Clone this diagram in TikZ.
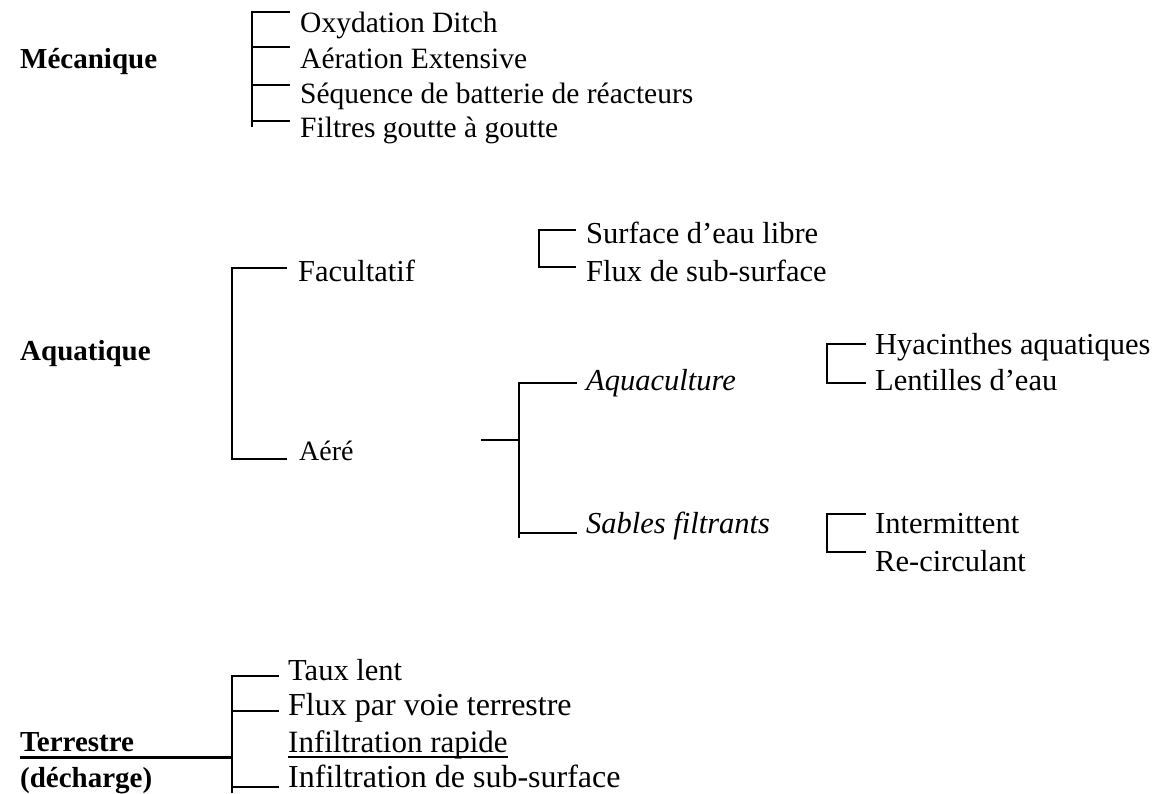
\documentclass[tikz,border=0pt]{standalone}
\usepackage{fontspec}
\setmainfont{Liberation Serif}
\begin{document}
\begin{tikzpicture}[x=1pt,y=-1pt,
  lbl/.style={anchor=base west, inner sep=0pt, font=\fontsize{29.5}{34}\selectfont},
  big/.style={anchor=base west, inner sep=0pt, font=\fontsize{32}{36}\selectfont},
  mid/.style={anchor=base west, inner sep=0pt, font=\fontsize{30.5}{35}\selectfont},
  sml/.style={anchor=base west, inner sep=0pt, font=\fontsize{28}{32}\selectfont},
  hdr/.style={anchor=base west, inner sep=0pt, font=\fontsize{29}{34}\selectfont\bfseries},
  brk/.style={line width=2pt},
  thick line/.style={line width=3pt}]
\useasboundingbox (0,0) rectangle (1160,793);

% headings
\node[hdr] (mec) at (20,68) {Mécanique};
\node[hdr] (aqu) at (20,360) {Aquatique};
\node[hdr] (ter) at (20,751) {Terrestre};
\node[hdr] (dec) at (20,787) {(décharge)};

% mecanique bracket
\node[lbl] (ox) at (300,32) {Oxydation Ditch};
\node[lbl] (aer) at (300,68) {Aération Extensive};
\node[lbl] (seq) at (300,103) {Séquence de batterie de réacteurs};
\node[lbl] (fil) at (300,137) {Filtres goutte à goutte};
\coordinate (m0) at (252,12);
\coordinate (m0e) at (290,12);
\coordinate (m1) at (252,47);
\coordinate (m1e) at (290,47);
\coordinate (m2) at (252,85);
\coordinate (m2e) at (290,85);
\coordinate (m3) at (252,121);
\coordinate (m3e) at (290,121);
\coordinate (mb) at (252,127);
\draw[brk] (mb) -- (m0) -- (m0e);
\draw[brk] (m1) -- (m1e);
\draw[brk] (m2) -- (m2e);
\draw[brk] (m3) -- (m3e);

% aquatique bracket
\node[mid] (fac) at (298,281) {Facultatif};
\node[sml] (aere) at (299,460) {Aéré};
\coordinate (a0) at (232,268);
\coordinate (a0e) at (287,268);
\coordinate (a1) at (232,459);
\coordinate (a1e) at (287,459);
\draw[brk] (a0e) -- (a0) -- (a1) -- (a1e);

% facultatif sub-bracket
\node[mid] (sur) at (586,243) {Surface d’eau libre};
\node[mid] (flu) at (586,281) {Flux de sub-surface};
\coordinate (f0) at (539,230);
\coordinate (f0e) at (576,230);
\coordinate (f1) at (539,267);
\coordinate (f1e) at (576,267);
\draw[brk] (f0e) -- (f0) -- (f1) -- (f1e);

% aere sub-bracket
\node[mid] (aqc) at (586,390) {\itshape Aquaculture};
\node[mid] (sab) at (586,533) {\itshape Sables filtrants};
\coordinate (s0) at (481,440);
\coordinate (s0e) at (519,440);
\coordinate (c0) at (519,383);
\coordinate (c0e) at (577,383);
\coordinate (c1) at (519,533);
\coordinate (c1e) at (577,533);
\coordinate (cb) at (519,538);
\draw[brk] (s0) -- (s0e);
\draw[brk] (c0e) -- (c0) -- (cb);
\draw[brk] (c1) -- (c1e);

% aquaculture sub-bracket
\node[mid] (hya) at (875,354) {Hyacinthes aquatiques};
\node[mid] (len) at (875,390) {Lentilles d’eau};
\coordinate (h0) at (827,344);
\coordinate (h0e) at (866,344);
\coordinate (h1) at (827,383);
\coordinate (h1e) at (866,383);
\draw[brk] (h0e) -- (h0) -- (h1) -- (h1e);

% sables sub-bracket
\node[mid] (int) at (875,533) {Intermittent};
\node[mid] (rec) at (875,571) {Re-circulant};
\coordinate (i0) at (827,514);
\coordinate (i0e) at (866,514);
\coordinate (i1) at (827,552);
\coordinate (i1e) at (866,552);
\draw[brk] (i0e) -- (i0) -- (i1) -- (i1e);

% terrestre bracket
\node[mid] (tau) at (288,680) {Taux lent};
\node[big] (fpv) at (288,715) {Flux par voie terrestre};
\node[mid] (ifr) at (288,752) {\fontsize{31}{35}\selectfont Infiltration rapide};
\node[big] (ifs) at (288,787) {Infiltration de sub-surface};
\coordinate (t0) at (232,676);
\coordinate (t0e) at (279,676);
\coordinate (t1) at (232,711);
\coordinate (t1e) at (279,711);
\coordinate (t3) at (232,787);
\coordinate (t3e) at (279,787);
\coordinate (tb) at (232,793);
\draw[brk] (tb) -- (t0) -- (t0e);
\draw[brk] (t1) -- (t1e);
\draw[brk] (t3) -- (t3e);
% underlines
\coordinate (u0) at (ter.south west |- 0,757);
\coordinate (u0e) at (233,757);
\draw[thick line] (u0) -- (u0e);
\coordinate (u1) at (ifr.west |- 0,757);
\coordinate (u1e) at (ifr.east |- 0,757);
\draw[line width=1.6pt] (u1) -- (u1e);
\end{tikzpicture}
\end{document}
